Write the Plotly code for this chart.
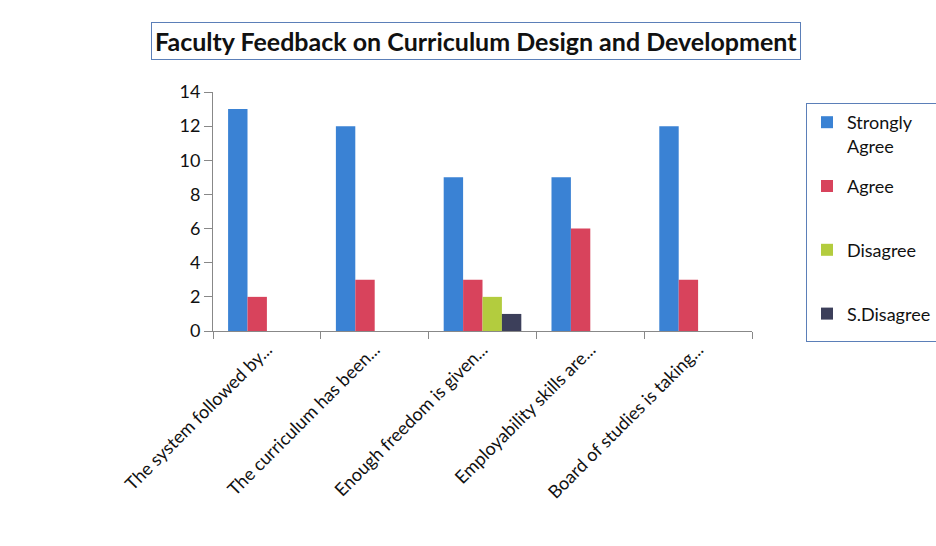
import plotly.graph_objects as go

categories = ["The system followed by...", "The curriculum has been...", "Enough freedom is given...",
              "Employability skills are...", "Board of studies is taking..."]
strongly_agree = [13, 12, 9, 9, 12]
agree = [2, 3, 3, 6, 3]
disagree = [0, 0, 2, 0, 0]
s_disagree = [0, 0, 1, 0, 0]

series = [
    ("Strongly<br>Agree", strongly_agree, "#3a82d4"),
    ("Agree<br>\u00a0", agree, "#d8435c"),
    ("Disagree<br>\u00a0", disagree, "#b3cc3e"),
    ("S.Disagree<br>\u00a0", s_disagree, "#3c3f5a"),
]

fig = go.Figure()
for i, (name, vals, col) in enumerate(series):
    fig.add_trace(go.Bar(x=categories, y=vals, name=name, marker=dict(color=col, line=dict(width=0)),
                         legendgroup=str(i)))

L, R, T, B = 213, 184, 92, 215
W = 936 - L - R
H = 546 - T - B
fig.update_layout(
    width=936, height=546,
    margin=dict(l=L, r=R, t=T, b=B, autoexpand=False),
    paper_bgcolor="white", plot_bgcolor="white",
    barmode="group", bargap=0.28, bargroupgap=0,
    font=dict(family="Lato, Open Sans, sans-serif", color="#111111"),
    showlegend=True,
    legend=dict(x=(806 - L) / W, y=(331 - 103) / H, xanchor="left", yanchor="top",
                bordercolor="#5b7fb8", borderwidth=1, bgcolor="white",
                font=dict(size=18, color="#111"), tracegroupgap=14,
                itemwidth=30, valign="top"),
    xaxis=dict(showline=True, linecolor="#888", linewidth=1, ticks="outside", tickcolor="#888",
               ticklen=7, tickson="boundaries", tickangle=-45, automargin=False,
               tickfont=dict(size=18, color="#111"), showgrid=False),
    yaxis=dict(range=[0, 14], dtick=2, showline=True, linecolor="#888", linewidth=1,
               ticks="outside", tickcolor="#888", ticklen=8, showgrid=False, automargin=False,
               tickfont=dict(size=18, color="#111"), zeroline=False),
    annotations=[dict(text="<b>Faculty Feedback on Curriculum Design and Development</b>",
                      xref="paper", yref="paper", x=(476 - L) / W, y=(331 - 41) / H,
                      xanchor="center", yanchor="middle", showarrow=False,
                      font=dict(size=25, color="#111"), bordercolor="#5b7fb8", borderwidth=1,
                      borderpad=3, bgcolor="white")],
)

fig.write_html("out.html", config={"displayModeBar": False},
               post_script="document.body.style.margin='0';document.body.style.padding='0';")
